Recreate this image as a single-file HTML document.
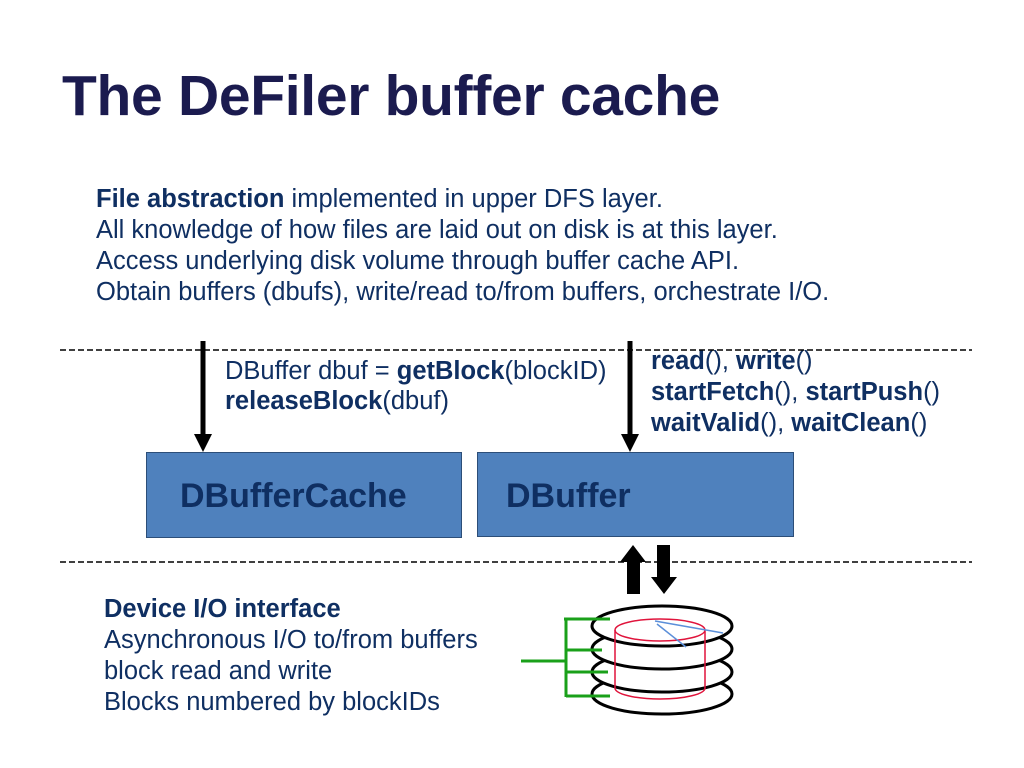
<!DOCTYPE html>
<html><head><meta charset="utf-8"><style>
body{margin:0;width:1024px;height:768px;background:#fff;position:relative;overflow:hidden;font-family:"Liberation Sans",Arial,sans-serif;}
.t{position:absolute;white-space:nowrap;}
h1{position:absolute;left:62px;top:63px;margin:0;font-size:57px;font-weight:bold;color:#1b1b4f;letter-spacing:-0.3px;}
.body{color:#0f2f62;font-size:25.5px;line-height:31px;letter-spacing:0;}
b{color:#0f2f62;}
.box{position:absolute;background:#4f81bd;border:1.5px solid #2c4e78;box-sizing:border-box;}
.box span{position:absolute;font-size:34px;font-weight:bold;color:#0f2f62;letter-spacing:0;}
</style></head><body>
<h1>The DeFiler buffer cache</h1>
<div class="t body" style="left:96px;top:184px"><b>File abstraction</b> implemented in upper DFS layer.<br>All knowledge of how files are laid out on disk is at this layer.<br>Access underlying disk volume through buffer cache API.<br>Obtain buffers (dbufs), write/read to/from buffers, orchestrate I/O.</div>
<div class="t body" style="left:225px;top:356px;line-height:30px">DBuffer dbuf = <b>getBlock</b>(blockID)<br><b>releaseBlock</b>(dbuf)</div>
<div class="t body" style="left:651px;top:346px;line-height:31px"><b>read</b>(), <b>write</b>()<br><b>startFetch</b>(), <b>startPush</b>()<br><b>waitValid</b>(), <b>waitClean</b>()</div>
<div class="box" style="left:146px;top:452px;width:316px;height:86px"><span style="left:33px;top:24px">DBufferCache</span></div>
<div class="box" style="left:477px;top:452px;width:317px;height:85px"><span style="left:28px;top:24px">DBuffer</span></div>
<div class="t body" style="left:104px;top:594px;line-height:31px"><b>Device I/O interface</b><br>Asynchronous I/O to/from buffers<br>block read and write<br>Blocks numbered by blockIDs</div>
<svg width="1024" height="768" style="position:absolute;left:0;top:0">
<line x1="60" y1="350" x2="972" y2="350" stroke="#000" stroke-width="1.5" stroke-dasharray="6,3"/>
<line x1="60" y1="562" x2="972" y2="562" stroke="#000" stroke-width="1.5" stroke-dasharray="6,3"/>
<line x1="203" y1="341" x2="203" y2="436" stroke="#000" stroke-width="5"/>
<polygon points="194,434 212,434 203,452" fill="#000"/>
<line x1="630" y1="341" x2="630" y2="436" stroke="#000" stroke-width="5"/>
<polygon points="621,434 639,434 630,452" fill="#000"/>
<polygon points="633,545 646,562 640,562 640,594 627,594 627,562 620,562" fill="#000"/>
<polygon points="664,594 677,577 670,577 670,545 657,545 657,577 651,577" fill="#000"/>
<g fill="#fff" stroke="#000" stroke-width="3">
<ellipse cx="662" cy="694" rx="70" ry="20"/>
<ellipse cx="662" cy="672" rx="70" ry="20"/>
<ellipse cx="662" cy="649" rx="70" ry="20"/>
<ellipse cx="662" cy="626" rx="70" ry="20"/>
</g>
<g fill="none" stroke="#e0143c" stroke-width="1.5">
<ellipse cx="660" cy="630" rx="45" ry="11"/>
<path d="M615 630 V688 A45 11 0 0 0 705 688 V630"/>
</g>
<g stroke="#5b8fd9" stroke-width="1.5"><line x1="655" y1="621" x2="723" y2="633"/><line x1="657" y1="624" x2="686" y2="647"/></g>
<g stroke="#1aa01a" stroke-width="3">
<line x1="566" y1="618" x2="566" y2="697"/>
<line x1="564" y1="619" x2="610" y2="619"/>
<line x1="566" y1="650" x2="602" y2="650"/>
<line x1="566" y1="672" x2="608" y2="672"/>
<line x1="566" y1="696" x2="610" y2="696"/>
<line x1="521" y1="661" x2="566" y2="661"/>
</g>
</svg>
</body></html>
